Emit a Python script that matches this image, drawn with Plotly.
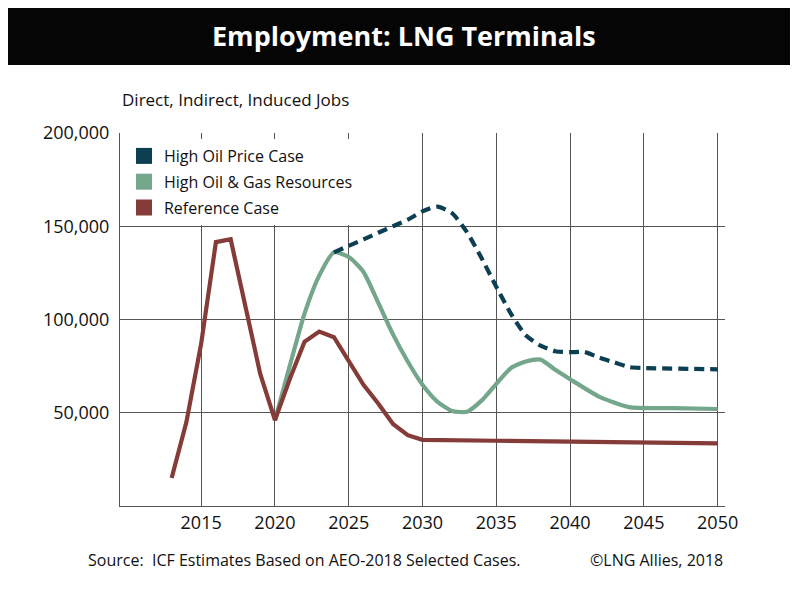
import plotly.graph_objects as go

# ---- data ----
ref_years = [2013, 2014, 2015, 2016, 2017, 2018, 2019, 2020, 2021, 2022, 2023, 2024,
             2025, 2026, 2027, 2028, 2029, 2030, 2035, 2040, 2045, 2050]
ref_jobs = [15000, 45000, 87000, 141500, 143000, 107000, 71000, 46000, 68000, 88000, 93500, 90500,
            78000, 65000, 55000, 44000, 38000, 35500, 35000, 34400, 34000, 33600]

gas_years = [2020, 2021, 2022, 2023, 2024, 2025, 2026, 2027, 2028, 2029, 2030, 2031, 2032,
             2033, 2034, 2035, 2036, 2037, 2038, 2039, 2040, 2042, 2044, 2047, 2050]
gas_jobs = [46000, 75000, 103000, 123500, 136000, 133500, 125500, 109000, 92000, 77500, 65000,
            56000, 51000, 50500, 56500, 65500, 74000, 77500, 78500, 73000, 68000, 58500, 53000,
            52500, 52000]

oil_years = [2024, 2025, 2026, 2027, 2028, 2029, 2030, 2031, 2032, 2033, 2034, 2035, 2036,
             2037, 2038, 2039, 2040, 2041, 2042, 2043, 2044, 2045, 2050]
oil_jobs = [136000, 139500, 143000, 146500, 150000, 153500, 158000, 160500, 157000, 147000,
            133000, 117500, 103000, 91500, 86000, 83000, 82500, 82500, 79500, 77000, 74500,
            74000, 73300]

series_names = ["High Oil Price Case", "High Oil & Gas Resources", "Reference Case"]
series_colors = ["#0b3f51", "#74a68b", "#853b37"]

x_ticks = [2015, 2020, 2025, 2030, 2035, 2040, 2045, 2050]
y_ticks = [50000, 100000, 150000, 200000]

FONT = "Open Sans"

fig = go.Figure()

# lines
fig.add_trace(go.Scatter(x=gas_years, y=gas_jobs, mode="lines", showlegend=False,
                         line=dict(color=series_colors[1], width=4.2, shape="spline", smoothing=0.6)))
fig.add_trace(go.Scatter(x=ref_years, y=ref_jobs, mode="lines", showlegend=False,
                         line=dict(color=series_colors[2], width=4.2)))
fig.add_trace(go.Scatter(x=oil_years, y=oil_jobs, mode="lines", showlegend=False,
                         line=dict(color=series_colors[0], width=4.2, dash="10px,6px",
                                   shape="spline", smoothing=0.6)))

# legend entries (square swatches)
for i, (nm, col) in enumerate(zip(series_names, series_colors)):
    fig.add_trace(go.Scatter(x=[None], y=[None], mode="markers", name=nm, legendgroup=str(i),
                             marker=dict(symbol="square", size=16, color=col)))

fig.update_layout(
    width=798, height=601,
    margin=dict(l=112, r=81, t=125, b=103),
    paper_bgcolor="white", plot_bgcolor="white",
    font=dict(family=FONT, color="#111111"),
    showlegend=True,
    legend=dict(x=0.0066, y=0.9839, xanchor="left", yanchor="top",
                bgcolor="white", borderwidth=0, font=dict(size=16, family=FONT, color="#111"),
                tracegroupgap=2, itemsizing="trace", traceorder="grouped"),
    xaxis=dict(range=[2009.5, 2050.5], tickvals=x_ticks, showgrid=True, gridcolor="#555555",
               gridwidth=1, showline=True, linecolor="#555555", linewidth=1, ticks="",
               zeroline=False, tickfont=dict(size=18, family=FONT, color="#111"),
               ticklabelstandoff=0),
    yaxis=dict(range=[0, 200000], tickvals=y_ticks, tickformat=",", showgrid=True,
               gridcolor="#555555", gridwidth=1, showline=True, linecolor="#555555",
               linewidth=1, ticks="", zeroline=False,
               tickfont=dict(size=18, family=FONT, color="#111"), ticklabelstandoff=6),
    shapes=[
        dict(type="rect", xref="paper", yref="paper", x0=-0.19008, x1=1.12066,
             y0=1.1823, y1=1.3432, fillcolor="#050505", line=dict(width=0), layer="above"),
        dict(type="line", xref="paper", yref="paper", x0=-0.19008, x1=-0.19008,
             y0=-0.2547, y1=1.1823, line=dict(color="#888888", width=1)),
    ],
    annotations=[
        dict(text="<b>Employment: LNG Terminals</b>", xref="paper", yref="paper",
             x=0.4694, y=1.2627, xanchor="center", yanchor="middle", showarrow=False,
             font=dict(size=27, color="white", family=FONT)),
        dict(text="Direct, Indirect, Induced Jobs", xref="paper", yref="paper",
             x=0.0, y=1.0885, xanchor="left", yanchor="middle", showarrow=False,
             font=dict(size=17, family=FONT, color="#111")),
        dict(text="Source:  ICF Estimates Based on AEO-2018 Selected Cases.", xref="paper",
             yref="paper", x=-0.0562, y=-0.1448, xanchor="left", yanchor="middle",
             showarrow=False, font=dict(size=16, family=FONT, color="#111")),
        dict(text="©LNG Allies, 2018", xref="paper", yref="paper", x=1.0, y=-0.1448,
             xanchor="right", yanchor="middle", showarrow=False,
             font=dict(size=16, family=FONT, color="#111")),
    ],
)

fig.write_html("out.html")
